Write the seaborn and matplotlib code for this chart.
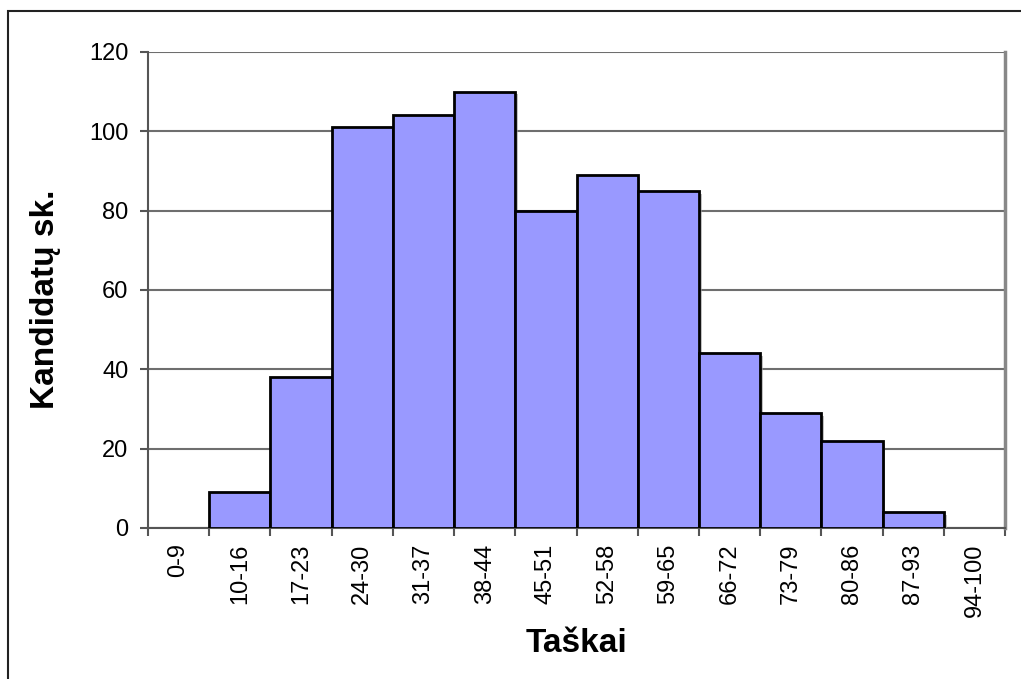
import matplotlib
matplotlib.use("Agg")
import matplotlib.pyplot as plt
import matplotlib.patheffects as pe
import seaborn as sns
import pandas as pd

# score ranges and number of candidates in each
ranges = ['0-9', '10-16', '17-23', '24-30', '31-37', '38-44', '45-51',
          '52-58', '59-65', '66-72', '73-79', '80-86', '87-93', '94-100']
counts = [0, 9, 38, 101, 104, 110, 80, 89, 85, 44, 29, 22, 4, 0]
y_ticks = [0, 20, 40, 60, 80, 100, 120]

df = pd.DataFrame({'range': ranges, 'count': counts})

sns.set_theme(style="white")
plt.rcParams['font.family'] = ['Liberation Sans', 'DejaVu Sans']
plt.rcParams['text.color'] = 'black'
plt.rcParams['axes.labelcolor'] = 'black'
plt.rcParams['xtick.labelcolor'] = 'black'
plt.rcParams['ytick.labelcolor'] = 'black'

fig = plt.figure(figsize=(10.21, 6.79), dpi=100)
ax = fig.add_axes([148 / 1021, 1 - 528 / 679, (1005 - 148) / 1021, (528 - 52) / 679])

sns.barplot(data=df, x='range', y='count', color='#9999FF', saturation=1,
            width=1, edgecolor='black', linewidth=2, ax=ax, zorder=3)

# drop shadow like the old excel chart, no outline on empty bars
for p, c in zip(ax.patches, counts):
    if c == 0:
        p.set_linewidth(0)
    else:
        p.set_path_effects([pe.SimplePatchShadow(offset=(2, -2), shadow_rgbFace='#999999', alpha=0.6), pe.Normal()])

ax.set_xlim(-0.5, len(ranges) - 0.5)
ax.set_ylim(0, 120)
ax.set_yticks(y_ticks)
ax.yaxis.grid(True, color='#6e6e6e', linewidth=1.5, zorder=0)
ax.set_axisbelow(True)

# tick marks sit between categories, labels at centres
ax.set_xticks(range(len(ranges)))
ax.set_xticklabels(ranges, rotation=90, fontsize=17)
ax.set_xticks([i - 0.5 for i in range(len(ranges) + 1)], minor=True)
ax.tick_params(axis='x', which='major', length=0, pad=11)
ax.tick_params(axis='x', which='minor', length=6, width=1.5, color='#555555', direction='out', bottom=True)
ax.tick_params(axis='y', length=6, width=1.5, color='#555555', direction='out', left=True, labelsize=17, pad=8)

for side in ['left', 'bottom']:
    ax.spines[side].set_color('#555555')
    ax.spines[side].set_linewidth(1.5)
ax.spines['right'].set_color('#888888')
ax.spines['right'].set_linewidth(2.5)
ax.spines['top'].set_visible(False)

ax.set_xlabel('Taškai', fontsize=24, fontweight='bold', labelpad=8)
ax.set_ylabel('Kandidatų sk.', fontsize=24, fontweight='bold')
ax.yaxis.set_label_coords(-0.102, 0.48)

# outer frame of the chart area
fig.patches.append(plt.Rectangle((8 / 1021, -0.1), 1.2, 1 - 11 / 679 + 0.1, transform=fig.transFigure,
                                 fill=False, edgecolor='#222222', linewidth=1.5))

fig.savefig('out.png', dpi=100, facecolor='white')
